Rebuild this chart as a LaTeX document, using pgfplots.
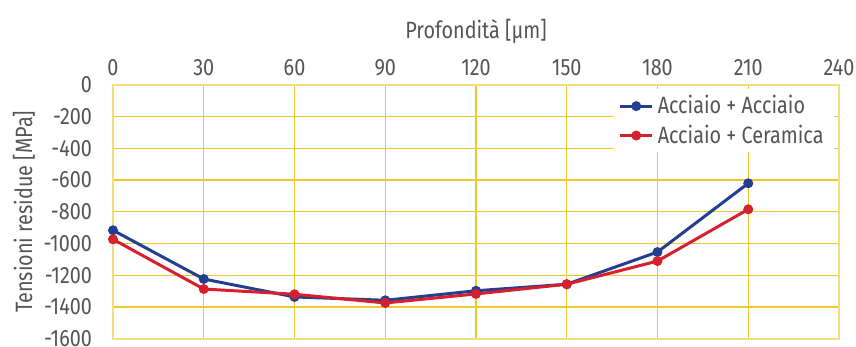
\documentclass[border=0pt]{standalone}
\usepackage{pgfplots}
\pgfplotsset{compat=1.18}
\usepackage{fontspec}
\setmainfont{Fira Sans}[FakeStretch=0.84]
\definecolor{cblue}{HTML}{243F8F}
\definecolor{cred}{HTML}{D7202E}
\definecolor{cgrid}{HTML}{F0C82A}
\definecolor{cframe}{HTML}{F5DC80}
\definecolor{ctext}{HTML}{555555}
\begin{document}
\begin{tikzpicture}
\begin{axis}[
  name=ax,
  scale only axis,
  width=363pt, height=127pt,
  xmin=0, xmax=240, ymin=-1600, ymax=0,
  xtick={0,30,...,240}, ytick={-1600,-1400,...,0},
  xticklabel pos=top,
  grid=major,
  major grid style={cgrid, line width=0.6pt},
  axis line style={cframe, line width=0.9pt},
  major tick length=0pt,
  tick label style={font=\fontsize{11.8}{13}\selectfont, color=ctext},
  /pgf/number format/assume math mode=true,
  /pgf/number format/1000 sep={},
  xticklabel style={yshift=1pt},
  yticklabel style={xshift=-7pt},
  xlabel={Profondità [µm]},
  ylabel={Tensioni residue [MPa]},
  label style={font=\fontsize{11.8}{13}\selectfont, color=ctext},
  xlabel style={yshift=1pt},
  ylabel style={yshift=-2.5pt},
  legend style={at={(0.993,0.983)}, anchor=north east, draw=none, fill=white,
    font=\fontsize{11.8}{13}\selectfont, text=ctext, row sep=0pt,
    inner xsep=3pt, inner ysep=1pt},
  legend cell align=left,
  legend image code/.code={\draw[#1, line width=1.5pt] (0pt,0pt) -- (16pt,0pt); \fill[#1] (8pt,0pt) circle (1.7pt);},
]
\addplot[cblue, line width=1.5pt, mark=*, mark size=1.7pt] coordinates {
(0,-917) (30,-1224) (60,-1337) (90,-1358) (120,-1298) (150,-1257) (180,-1054) (210,-621)};
\addlegendentry{Acciaio + Acciaio}
\addplot[cred, line width=1.5pt, mark=*, mark size=1.7pt] coordinates {
(0,-974) (30,-1287) (60,-1320) (90,-1375) (120,-1318) (150,-1257) (180,-1111) (210,-785)};
\addlegendentry{Acciaio + Ceramica}
\end{axis}
\pgfresetboundingbox
\path[use as bounding box] ([xshift=-56.5pt,yshift=-4pt]ax.south west) rectangle ([xshift=8.5pt,yshift=42.35pt]ax.north east);
\end{tikzpicture}
\end{document}
